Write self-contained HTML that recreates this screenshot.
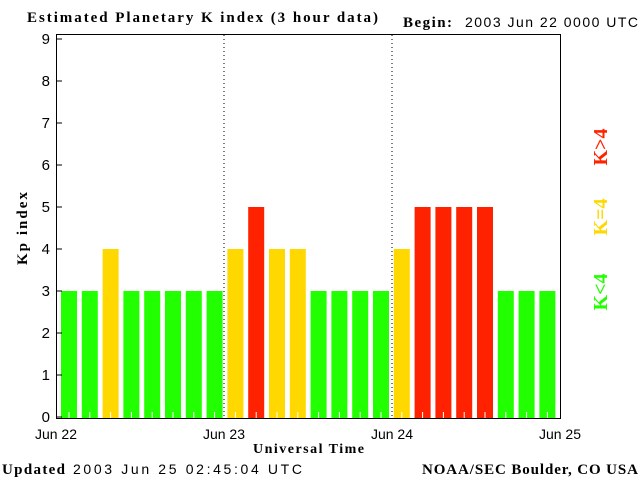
<!DOCTYPE html>
<html><head><meta charset="utf-8"><style>
html,body{margin:0;padding:0;background:#fff;}
svg{display:block;}
</style></head><body>
<svg width="640" height="480" xmlns="http://www.w3.org/2000/svg">
<rect width="640" height="480" fill="#fff"/>
<text x="27" y="22" font-family="Liberation Serif, serif" font-weight="bold" font-size="15" textLength="351" lengthAdjust="spacing">Estimated Planetary K index (3 hour data)</text>
<text x="403" y="27" font-family="Liberation Serif, serif" font-weight="bold" font-size="15" textLength="49">Begin:</text>
<text x="465" y="27" font-family="Liberation Sans, sans-serif" font-size="14" textLength="173" lengthAdjust="spacing">2003 Jun 22 0000 UTC</text>
<g id="bars"></g>
<line x1="224" y1="35" x2="224" y2="418" stroke="#000" stroke-dasharray="1,3"/>
<line x1="392" y1="35" x2="392" y2="418" stroke="#000" stroke-dasharray="1,3"/>
<rect x="56.5" y="34.5" width="504" height="384" fill="none" stroke="#000"/>
<g font-family="Liberation Sans, sans-serif" font-size="15" text-anchor="end" id="yl"></g>
<g font-family="Liberation Sans, sans-serif" font-size="14" text-anchor="middle">
<text x="56" y="439">Jun 22</text><text x="224" y="439">Jun 23</text><text x="392" y="439">Jun 24</text><text x="560" y="439">Jun 25</text>
</g>
<text x="253" y="453" font-family="Liberation Serif, serif" font-weight="bold" font-size="14" textLength="111">Universal Time</text>
<text transform="translate(27,265) rotate(-90)" font-family="Liberation Serif, serif" font-weight="bold" font-size="15" textLength="73">Kp index</text>
<g font-family="Liberation Serif, serif" font-weight="bold" font-size="20" text-anchor="middle">
<text transform="translate(607,147) rotate(-90)" fill="#ff2200">K&gt;4</text>
<text transform="translate(607,217) rotate(-90)" fill="#ffd800">K=4</text>
<text transform="translate(607,292) rotate(-90)" fill="#22ff00">K&lt;4</text>
</g>
<text x="2" y="474" font-family="Liberation Serif, serif" font-weight="bold" font-size="15" textLength="63">Updated</text>
<text x="73" y="474" font-family="Liberation Sans, sans-serif" font-size="14" textLength="229" lengthAdjust="spacing">2003 Jun 25 02:45:04 UTC</text>
<text x="422" y="474" font-family="Liberation Serif, serif" font-weight="bold" font-size="15" textLength="216" lengthAdjust="spacing">NOAA/SEC Boulder, CO USA</text>
</svg>
<script>
var v=[3,3,4,3,3,3,3,3,4,5,4,4,3,3,3,3,4,5,5,5,5,3,3,3];
var g=document.getElementById('bars'),s='';
v.forEach(function(k,i){var x=61+i*20.8,top=417-k*42;var c=k<4?'#22ff00':(k==4?'#ffd800':'#ff2200');
s+='<rect x="'+x.toFixed(1)+'" y="'+top+'" width="16" height="'+(418-top)+'" fill="'+c+'"/>';
s+='<line x1="'+(x+8).toFixed(1)+'" y1="412" x2="'+(x+8).toFixed(1)+'" y2="418" stroke="#fff"/>';});
g.innerHTML=s;
var y=document.getElementById('yl'),t='';
for(var k=0;k<=9;k++){var yy=417-k*42;t+='<text x="50" y="'+(yy+5)+'">'+k+'</text><line x1="56" y1="'+yy+'" x2="62" y2="'+yy+'" stroke="#000"/>';}
y.innerHTML=t;
</script>
</body></html>
